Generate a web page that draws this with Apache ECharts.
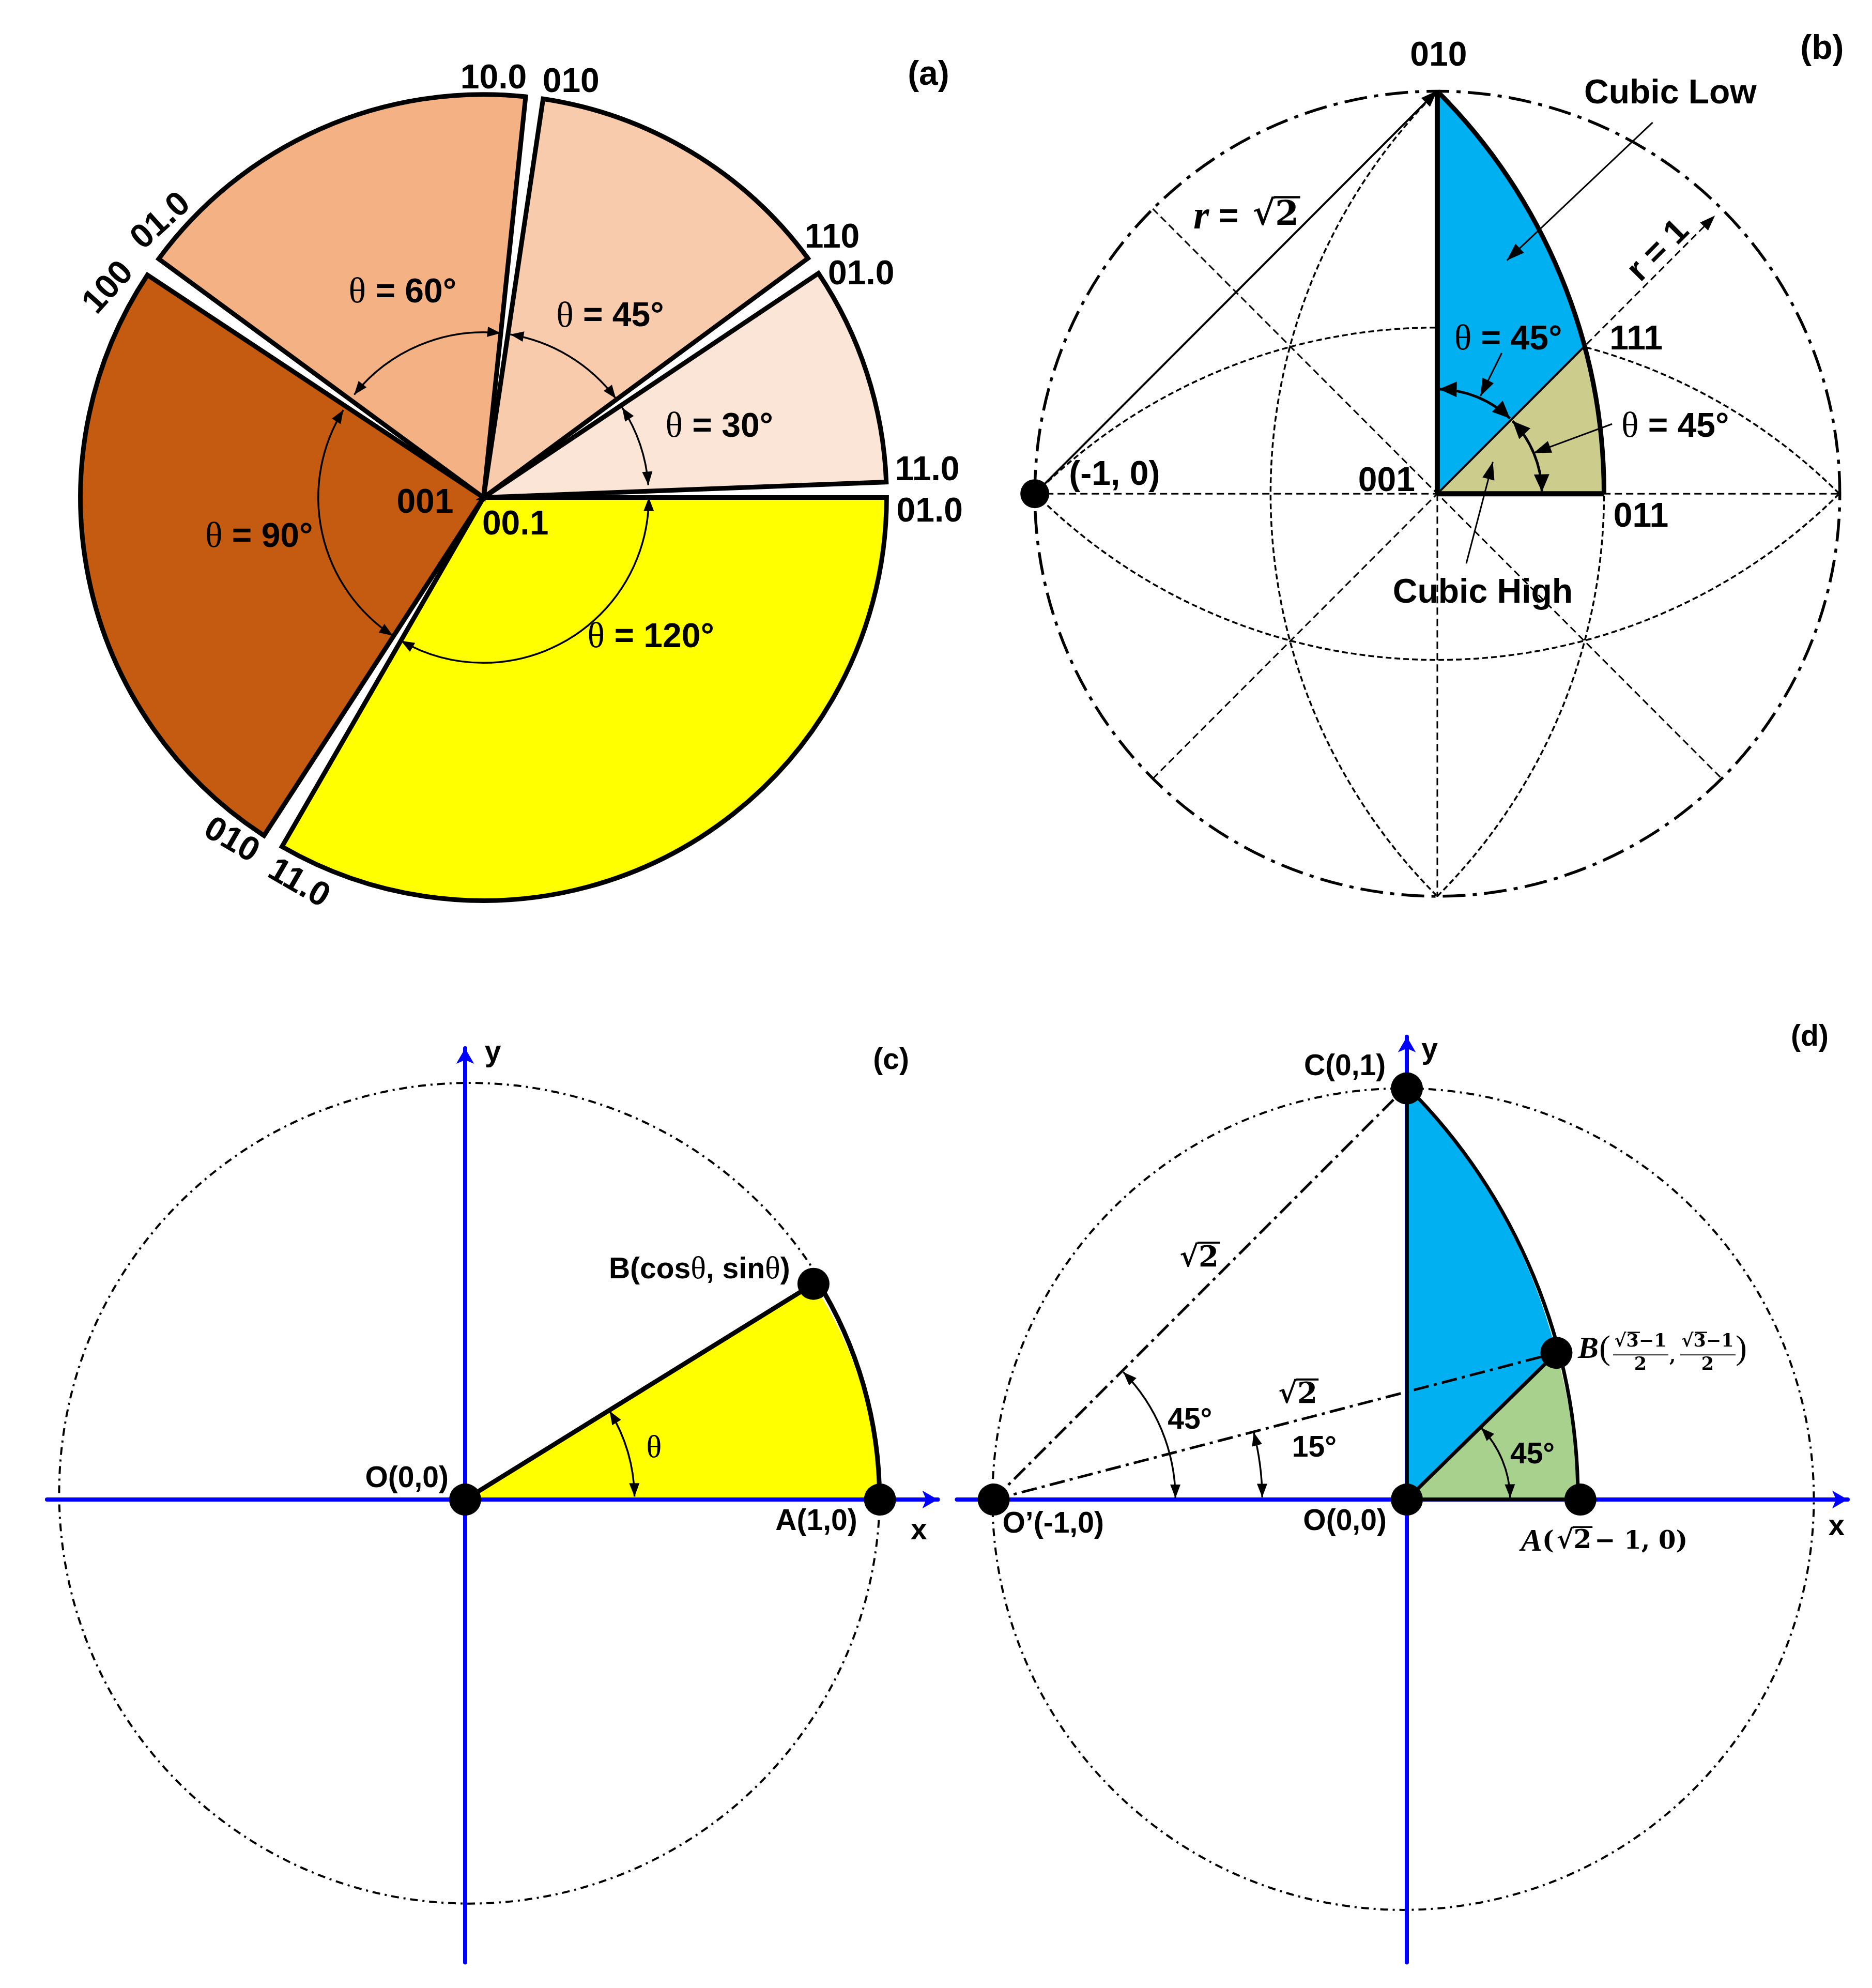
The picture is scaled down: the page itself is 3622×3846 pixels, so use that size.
<!DOCTYPE html>
<html>
<head>
<meta charset="utf-8">
<title>Orientation sectors</title>
<script src="https://cdn.jsdelivr.net/npm/echarts@6/dist/echarts.min.js"></script>
<style>
  html, body { margin: 0; background: #fff; }
  #main { width: 3622px; height: 3846px; }
</style>
</head>
<body>
<div id="main"></div>
<script>
// (a) sectors, angles in degrees, radius 1
const sliceFrom = [240, 146.5, 84, 36.4, 2.2];
const sliceTo = [360, 237, 143.7, 81.5, 33.8];
const sliceColors = ['#FFFF00', '#C55A11', '#F4B183', '#F8CBAD', '#FBE5D6'];
const sliceArcFrom = [360, 148, 84, 36.8, 4.3];
const sliceArcTo = [240, 236.7, 141.5, 80.7, 33];
const sliceArcRadius = 0.41;

// (b) and (d) shared points of the fundamental zones
const rootTwo = 1.4142;
const pointC = [0, 1];
const pointB = [0.366, 0.366];
const pointA = [0.4142, 0];
const pointO = [0, 0];
const pointLeft = [-1, 0];

// (d) dots
const dotCd = [0, 0.995];
const dotBd = [0.362, 0.355];
const dotAd = [0.42, 0];

// (c) unit circle sector
const thetaC = 32;
const pointBc = [0.843, 0.522];
const pointAc = [1.004, 0];
const circleC = [0.0104, 0.0153, 0.993];
const circleD = [-0.009, 0.001, 0.994];

// panel frames, in a 1477 wide copy of the reference
const S = 3622 / 1477;
const panels = [
  { c: [381.5, 392.5], R: 318, xr: [-1.15, 1.15], yr: [-1.2, 1.2] },
  { c: [1134.5, 389.5], R: 318, xr: [-1.08, 1.08], yr: [-1.15, 1.2] },
  { c: [367, 1183], R: 326, xr: [-1.012, 1.144], yr: [-1.12, 1.092] },
  { c: [1110, 1183], R: 326, xr: [-1.089, 1.067], yr: [-1.12, 1.12] }
];

const fontLarge = 'bold 66px "Liberation Sans"';
const fontSmall = 'bold 57px "Liberation Sans"';
const richLarge = {
  t: { font: '70px "Liberation Serif"' },
  i: { font: 'italic bold 78px "Liberation Serif"' }
};
const richSmall = {
  t: { font: '62px "Liberation Serif"' },
  i: { font: 'italic bold 62px "Liberation Serif"' },
  s: { font: 'bold 48px "DejaVu Serif"' }
};

const grids = panels.map(p => ({
  left: p.c[0] * S + p.xr[0] * p.R * S,
  top: p.c[1] * S - p.yr[1] * p.R * S,
  width: (p.xr[1] - p.xr[0]) * p.R * S,
  height: (p.yr[1] - p.yr[0]) * p.R * S
}));

function makeAxis(range, showLine, gridIndex) {
  return {
    type: 'value', gridIndex: gridIndex, min: range[0], max: range[1], show: showLine, z: 3,
    axisLabel: { show: false }, axisTick: { show: false }, splitLine: { show: false },
    axisLine: {
      show: showLine, onZero: true, symbol: ['none', 'arrow'], symbolSize: [26, 30],
      lineStyle: { color: '#0000FF', width: 8 }
    }
  };
}
const xAxes = panels.map((p, i) => makeAxis(p.xr, i > 1, i));
const yAxes = panels.map((p, i) => makeAxis(p.yr, i > 1, i));

function head(x, y, dx, dy, size) {
  // tip at x,y pointing along dx,dy
  const len = Math.hypot(dx, dy);
  const ux = dx / len, uy = dy / len;
  const bx = x - ux * size[0], by = y - uy * size[0];
  return {
    type: 'polygon',
    shape: { points: [[x, y], [bx - uy * size[1] / 2, by + ux * size[1] / 2], [bx + uy * size[1] / 2, by - ux * size[1] / 2]] },
    style: { fill: '#000' }
  };
}

function base(panel, z, rows, renderItem) {
  return {
    type: 'custom', xAxisIndex: panel, yAxisIndex: panel, z: z, silent: true,
    data: rows.map((r, i) => [i]), encode: { x: [], y: [] },
    renderItem: renderItem
  };
}

// rows: x0, y0, x1, y1, arrow at start, arrow at end
function lines(panel, rows, o) {
  return base(panel, o.z || 4, rows, (params, api) => {
    const r = rows[params.dataIndex];
    const a = api.coord([r[0], r[1]]), b = api.coord([r[2], r[3]]);
    const kids = [{
      type: 'line', shape: { x1: a[0], y1: a[1], x2: b[0], y2: b[1] },
      style: { stroke: '#000', lineWidth: o.width, lineDash: o.dash || null, fill: null }
    }];
    if (r[4]) kids.push(head(a[0], a[1], a[0] - b[0], a[1] - b[1], o.head));
    if (r[5]) kids.push(head(b[0], b[1], b[0] - a[0], b[1] - a[1], o.head));
    return { type: 'group', children: kids };
  });
}

// rows: cx, cy, r, from deg, to deg, arrow at start, arrow at end
function arcs(panel, rows, o) {
  return base(panel, o.z || 4, rows, (params, api) => {
    const r = rows[params.dataIndex];
    const c = api.coord([r[0], r[1]]);
    const px = api.size([r[2], r[2]])[0];
    const a0 = r[3] * Math.PI / 180, a1 = r[4] * Math.PI / 180;
    const sign = r[4] > r[3] ? 1 : -1;
    const kids = [{
      type: 'arc',
      shape: { cx: c[0], cy: c[1], r: px, startAngle: -a0, endAngle: -a1, clockwise: sign < 0 },
      style: { stroke: '#000', fill: null, lineWidth: o.width, lineDash: o.dash || null }
    }];
    if (r[5]) kids.push(head(c[0] + px * Math.cos(a0), c[1] - px * Math.sin(a0),
      Math.sin(a0) * sign, Math.cos(a0) * sign, o.head));
    if (r[6]) kids.push(head(c[0] + px * Math.cos(a1), c[1] - px * Math.sin(a1),
      -Math.sin(a1) * sign, -Math.cos(a1) * sign, o.head));
    return { type: 'group', children: kids };
  });
}

// from apex a along a straight edge to b, arc of radius r to c, back to a
function zones(panel, rows, colors) {
  return base(panel, 2, rows, (params, api) => {
    const r = rows[params.dataIndex];
    const a = api.coord(r[0]), b = api.coord(r[1]), c = api.coord(r[2]);
    const px = api.size([r[3], r[3]])[0];
    return {
      type: 'path',
      shape: { pathData: `M${a[0]} ${a[1]}L${b[0]} ${b[1]}A${px} ${px} 0 0 1 ${c[0]} ${c[1]}Z` },
      style: { fill: colors[params.dataIndex], stroke: null }
    };
  });
}

// rows: text, x, y, rotation in degrees
function notes(panel, rows, font, rich, dy) {
  return base(panel, 8, rows, (params, api) => {
    const r = rows[params.dataIndex];
    const p = api.coord([r[1], r[2]]);
    return {
      type: 'text', x: p[0], y: p[1] + (dy || 0), rotation: (r[3] || 0) * Math.PI / 180,
      style: { text: r[0], x: 0, y: 0, align: 'center', verticalAlign: 'middle', font: font, fill: '#000', rich: rich }
    };
  });
}

// rows: x, y. square root of two centred on x, the bar drawn over the digit
function rootLabels(panel, rows, size) {
  return base(panel, 8, rows, (params, api) => {
    const r = rows[params.dataIndex];
    const p = api.coord([r[0], r[1]]);
    const font = 'bold ' + size + 'px "DejaVu Serif"';
    const w = size * 0.7;
    const mid = p[0] + size * 0.07;
    const top = p[1] - size * 0.55;
    return {
      type: 'group',
      children: [
        { type: 'text', x: mid, y: p[1], style: { text: '√', x: 0, y: 0, align: 'right', verticalAlign: 'middle', font: font, fill: '#000' } },
        { type: 'text', x: mid, y: p[1], style: { text: '2', x: 0, y: 0, align: 'left', verticalAlign: 'middle', font: font, fill: '#000' } },
        { type: 'line', shape: { x1: mid - w * 0.05, y1: top, x2: mid + w * 1.05, y2: top }, style: { stroke: '#000', lineWidth: size * 0.07 } }
      ]
    };
  });
}

function dots(panel, points, size) {
  return {
    type: 'scatter', xAxisIndex: panel, yAxisIndex: panel, z: 6, silent: true,
    data: points, symbolSize: size, itemStyle: { color: '#000', opacity: 1 }
  };
}

const series = [];

// ---- panel a
series.push(base(0, 2, sliceFrom, (params, api) => {
  const i = params.dataIndex;
  const c = api.coord([0, 0]);
  return {
    type: 'sector',
    shape: {
      cx: c[0], cy: c[1], r0: 0, r: api.size([1, 1])[0],
      startAngle: -sliceFrom[i] * Math.PI / 180, endAngle: -sliceTo[i] * Math.PI / 180, clockwise: false
    },
    style: { fill: sliceColors[i], stroke: '#000', lineWidth: 9, lineJoin: 'miter' }
  };
}));
series.push(arcs(0, sliceFrom.map((v, i) => [0, 0, sliceArcRadius, sliceArcFrom[i], sliceArcTo[i], 1, 1]),
  { width: 3.5, head: [26, 20] }));
series.push(notes(0, [
  ['(a)', 1.104, 1.053],
  ['10.0', 0.025, 1.044], ['010', 0.217, 1.035],
  ['01.0', -0.8, 0.69, 42], ['100', -0.93, 0.525, 48],
  ['110', 0.865, 0.648], ['01.0', 0.937, 0.557],
  ['11.0', 1.101, 0.072], ['01.0', 1.107, -0.031],
  ['001', -0.145, -0.009], ['00.1', 0.079, -0.063],
  ['010', -0.626, -0.846, -30], ['11.0', -0.459, -0.953, -30],
  ['{t|θ} = 60°', -0.201, 0.513], ['{t|θ} = 45°', 0.314, 0.453], ['{t|θ} = 30°', 0.585, 0.179],
  ['{t|θ} = 90°', -0.557, -0.094], ['{t|θ} = 120°', 0.415, -0.343]
], fontLarge, richLarge, 4));

// ---- panel b
series.push(arcs(1, [[0, 0, 1, 0, 360]], { width: 5.5, dash: [44, 14, 8, 14], z: 1, head: [0, 0] }));
series.push(arcs(1, [
  [0, -1, rootTwo, 135, 45], [0, 1, rootTwo, 225, 315],
  [1, 0, rootTwo, 135, 225], [-1, 0, rootTwo, -45, 45]
], { width: 3.5, dash: [11, 6], z: 1, head: [0, 0] }));
series.push(lines(1, [
  [-1, 0, 1, 0], [0, 0, 0, -1], [-0.707, 0.707, 0.707, -0.707]
], { width: 3, dash: [14, 8], z: 1 }));
series.push(lines(1, [[-0.707, -0.707, 0.69, 0.69, 0, 1]], { width: 3, dash: [14, 8], z: 1, head: [30, 22] }));
series.push(zones(1, [[pointO, pointC, pointB, rootTwo], [pointO, pointB, pointA, rootTwo]], ['#00B0F0', '#CCCC8D']));
series.push(lines(1, [[0, 0, 0, 1], [0, 0, 0.4142, 0]], { width: 10 }));
series.push(lines(1, [[0, 0, 0.366, 0.366]], { width: 4 }));
series.push(arcs(1, [[-1, 0, rootTwo, 0, 45]], { width: 9, head: [0, 0] }));
series.push(lines(1, [[-1, 0, 0, 1, 0, 1]], { width: 4, head: [32, 24] }));
series.push(arcs(1, [[0, 0, 0.26, 89, 46, 1, 1], [0, 0, 0.26, 44, 1, 1, 1]], { width: 5, head: [34, 30] }));
series.push(lines(1, [
  [0.535, 0.921, 0.173, 0.579, 0, 1], [0.160, 0.349, 0.107, 0.242, 0, 1],
  [0.072, -0.173, 0.138, 0.079, 0, 1], [0.434, 0.173, 0.239, 0.101, 0, 1]
], { width: 3, head: [34, 24] }));
series.push(dots(1, [pointLeft], 56));
series.push(notes(1, [
  ['(b)', 0.956, 1.107], ['010', 0.003, 1.091], ['Cubic Low', 0.579, 0.997],
  ['{i|r} =', -0.55, 0.689], ['r = 1', 0.55, 0.607, 45],
  ['111', 0.494, 0.387], ['{t|θ} = 45°', 0.176, 0.387], ['{t|θ} = 45°', 0.591, 0.17],
  ['(-1, 0)', -0.802, 0.05], ['001', -0.126, 0.035], ['011', 0.506, -0.053],
  ['Cubic High', 0.113, -0.242]
], fontLarge, richLarge, 4));
series.push(rootLabels(1, [[-0.409, 0.689]], 66));

// ---- panel c
series.push(arcs(2, [[circleC[0], circleC[1], circleC[2], thetaC, 360]], { width: 4, dash: [15, 9, 4, 9], z: 1, head: [0, 0] }));
series.push(zones(2, [[pointO, pointBc, pointAc, 1.0]], ['#FFFF00']));
series.push(lines(2, [[0, 0, pointBc[0], pointBc[1]]], { width: 9 }));
series.push(arcs(2, [[0, 0, 1.003, 0, thetaC]], { width: 9, head: [0, 0] }));
series.push(arcs(2, [[0, 0, 0.41, 1, thetaC - 0.5, 1, 1]], { width: 3.5, head: [26, 20] }));
series.push(dots(2, [pointO, pointAc, pointBc], 62));
series.push(notes(2, [
  ['(c)', 1.031, 1.064], ['y', 0.067, 1.083], ['B(cos{t|θ}, sin{t|θ})', 0.567, 0.558],
  ['{t|θ}', 0.457, 0.126], ['O(0,0)', -0.141, 0.052], ['A(1,0)', 0.85, -0.052], ['x', 1.098, -0.074]
], fontSmall, richSmall, 2));

// ---- panel d
series.push(arcs(3, [[circleD[0], circleD[1], circleD[2], 0, 360]], { width: 4, dash: [15, 9, 4, 9], z: 1, head: [0, 0] }));
series.push(zones(3, [[pointO, pointC, dotBd, rootTwo], [pointO, dotBd, pointA, rootTwo]], ['#00B0F0', '#A9D18E']));
series.push(lines(3, [[0, 0, 0, 1], [0, 0, 0.4142, 0], [0, 0, dotBd[0], dotBd[1]]], { width: 7 }));
series.push(arcs(3, [[-1, 0, rootTwo, 0, 45]], { width: 7, head: [0, 0] }));
series.push(lines(3, [[-1, 0, 0, 1], [-1, 0, dotBd[0], dotBd[1]]], { width: 5, dash: [30, 10, 6, 10] }));
series.push(arcs(3, [
  [-1, 0, 0.44, 0.5, 44.5, 1, 1], [-1, 0, 0.65, 0.5, 14.5, 1, 1], [0, 0, 0.25, 1, 44, 1, 1]
], { width: 3.5, head: [26, 20] }));
series.push(dots(3, [pointLeft, pointO, dotAd, dotCd, dotBd], 62));
series.push(notes(3, [
  ['(d)', 0.975, 1.12], ['y', 0.055, 1.089], ['C(0,1)', -0.15, 1.049],
  ['45°', -0.525, 0.193], ['15°', -0.224, 0.126], ['45°', 0.304, 0.11],
  ['O’(-1,0)', -0.856, -0.058], ['O(0,0)', -0.15, -0.052],
  ['{i|A}{s|(}', 0.316, -0.101], ['{s|− 1, 0)}', 0.567, -0.101], ['x', 1.04, -0.064]
], fontSmall, richSmall, 2));
series.push(rootLabels(3, [[-0.509, 0.583], [-0.27, 0.252]], 56));
series.push(rootLabels(3, [[0.399, -0.101]], 50));
// point B label with stacked fractions, offsets in pixels from the anchor
series.push(base(3, 8, [0], (params, api) => {
  const p = api.coord([0.414, 0.362]);
  const t = (text, x, y, font) => ({
    type: 'text', x: p[0] + x, y: p[1] + y,
    style: { text: text, x: 0, y: 0, align: 'center', verticalAlign: 'middle', font: font, fill: '#000' }
  });
  const rule = (x1, x2, y, w, c) => ({
    type: 'line', shape: { x1: p[0] + x1, y1: p[1] + y, x2: p[0] + x2, y2: p[1] + y },
    style: { stroke: c, lineWidth: w }
  });
  const frac = 'bold 35px "DejaVu Serif"';
  const paren = '66px "Liberation Serif"';
  return {
    type: 'group',
    children: [
      t('B', 20, 0, 'italic bold 60px "Liberation Serif"'), t('(', 52, 0, paren),
      t('√3−1', 121, -16, frac), rule(68, 175, 9, 3, '#555'), rule(96, 120, -34, 2.5, '#000'),
      t('2', 121, 29, frac), t(',', 183, 14, frac),
      t('√3−1', 251, -16, frac), rule(198, 305, 9, 3, '#555'), rule(226, 250, -34, 2.5, '#000'),
      t('2', 251, 29, frac), t(')', 316, 0, paren)
    ]
  };
}));

const chart = echarts.init(document.getElementById('main'), null, { renderer: 'canvas' });
chart.setOption({
  animation: false,
  backgroundColor: '#fff',
  grid: grids,
  xAxis: xAxes,
  yAxis: yAxes,
  series: series
});
</script>
</body>
</html>
